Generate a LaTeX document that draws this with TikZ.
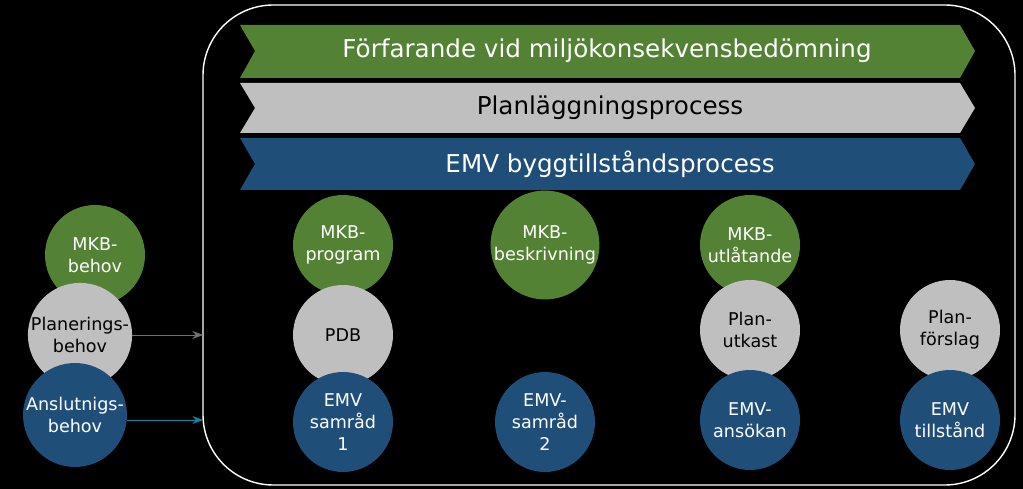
\documentclass[tikz,border=0pt]{standalone}
\usepackage{fontspec}
\setmainfont{DejaVu Sans}
\usetikzlibrary{arrows.meta}
\definecolor{mkbgreen}{RGB}{84,130,53}
\definecolor{plangray}{RGB}{191,191,191}
\definecolor{emvblue}{RGB}{31,78,121}
\tikzset{
  bubble/.style={circle, minimum size=2cm, inner sep=0pt, align=center, font=\fontsize{10}{12.5}\selectfont},
  mkb/.style={bubble, fill=mkbgreen, text=white},
  plan/.style={bubble, fill=plangray, text=black},
  emv/.style={bubble, fill=emvblue, text=white},
  banner/.style={font=\fontsize{14}{17}\selectfont},
}
\begin{document}
\begin{tikzpicture}[x=0.02cm, y=-0.02cm]
\useasboundingbox (0,0) rectangle (1023,489);
\fill[black] (0,0) rectangle (1023,489);
\draw[white, thick, rounded corners=40] (203,5) rectangle (1015,485);
% banners
\fill[mkbgreen] (240,25) -- (960,25) -- (975,51) -- (960,78) -- (240,78) -- (255,51) -- cycle;
\fill[plangray] (240,83) -- (960,83) -- (975,108) -- (960,133) -- (240,133) -- (255,108) -- cycle;
\fill[emvblue] (240,138) -- (960,138) -- (975,164) -- (960,190) -- (240,190) -- (255,164) -- cycle;
\node[banner, text=white] (fmkb) at (607,51) {Förfarande vid miljökonsekvensbedömning};
\node[banner, text=black] (fplan) at (610,108) {Planläggningsprocess};
\node[banner, text=white] (femv) at (610,164) {EMV byggtillståndsprocess};
% bubbles
\node[mkb] (mkb0) at (95,255) {MKB-\\behov};
\node[mkb] (mkb1) at (343,245) {MKB-\\program};
\node[mkb] (mkb2) at (545,245) {MKB-\\beskrivning};
\node[mkb] (mkb3) at (750,245) {MKB-\\utlåtande};
\node[plan] (plan0) at (80,335) {Planerings-\\behov};
\node[plan] (plan1) at (343,335) {PDB};
\node[plan] (plan3) at (750,330) {Plan-\\utkast};
\node[plan] (plan4) at (950,330) {Plan-\\förslag};
\node[emv] (emv0) at (75,415) {Anslutnigs-\\behov};
\node[emv] (emv1) at (343,422) {EMV\\samråd\\1};
\node[emv] (emv2) at (545,422) {EMV-\\samråd\\2};
\node[emv] (emv3) at (750,420) {EMV-\\ansökan};
\node[emv] (emv4) at (950,420) {EMV\\tillstånd};
% arrows into the frame
\coordinate (inplan) at (203,335);
\coordinate (inemv) at (203,420);
\draw[-{Stealth[length=6pt]}, plangray!60!black] (plan0.east |- inplan) -- (inplan);
\draw[-{Stealth[length=6pt]}, emvblue!70!cyan] (emv0.east |- inemv) -- (inemv);
\end{tikzpicture}
\end{document}
